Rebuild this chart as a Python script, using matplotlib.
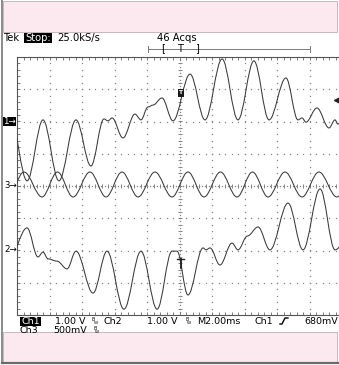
import numpy as np
import matplotlib
matplotlib.use("Agg")
import matplotlib.pyplot as plt
from matplotlib.path import Path
from matplotlib.patches import PathPatch, Rectangle
from matplotlib.lines import Line2D

plt.rcParams['font.family'] = ['DejaVu Sans']

W, H = 339, 365

# ---- scope settings ----
TIME_PER_DIV = 2.0          # ms/div  (M2.00ms)
CH1_SCALE, CH1_POS = 1.00, 2.0    # V/div, ground marker (div)
CH2_SCALE, CH2_POS = 1.00, -2.0
CH3_SCALE, CH3_POS = 0.50, 0.0
TRIG_LEVEL = 0.68           # V on Ch1

# ---- traces: turning points (time ms, volts) ----
ch1_t = [-10.37, -9.38, -8.40, -7.42, -6.37, -5.45, -4.65, -4.40, -4.15, -3.48,
         -2.74, -2.37, -1.94, -1.63, -1.08, -0.40, 0.65, 1.57, 2.62, 3.60,
         4.58, 5.51, 6.55, 7.29, 7.54, 7.78, 8.46, 9.20, 9.57, 9.75, 10.0]
ch1_v = [0.02, -1.84, 0.05, -1.84, 0.05, -1.38, 0.08, 0.02, 0.11, -0.51,
         0.23, 0.05, 0.45, 0.51, 0.73, 0.02, 1.47, 0.05, 1.94, 0.05,
         1.88, 0.05, 1.35, 0.05, 0.11, -0.02, 0.42, -0.20, 0.05, -0.08, 0.02]

ch2_t = [-10.55, -9.38, -8.71, -8.40, -8.09, -7.54, -6.92, -6.37, -5.32, -4.46,
         -3.42, -2.37, -1.38, -0.46, -0.15, 0.52, 1.45, 1.63, 1.88, 2.49,
         3.23, 3.60, 4.18, 4.83, 5.57, 6.68, 7.60, 8.65, 9.57, 10.49]
ch2_v = [-0.36, 0.70, -0.20, -0.05, -0.26, -0.33, -0.57, -0.02, -1.32, -0.02,
         -1.82, -0.02, -1.82, -0.02, -0.02, -1.38, 0.08, 0.02, 0.08, -0.45,
         0.23, 0.02, 0.45, 0.73, 0.02, 1.47, 0.02, 1.91, 0.02, 0.48]

ch3_t = [-10.55, -9.57, -8.46, -7.51, -6.55, -5.51, -4.52, -3.54, -2.55, -1.51,
         -0.46, 0.52, 1.51, 2.52, 3.54, 4.49, 5.45, 6.49, 7.54, 8.58, 9.69, 10.68]
ch3_v = [-0.17, 0.217, -0.17, 0.217, -0.17, 0.217, -0.17, 0.217, -0.17, 0.217,
         -0.17, 0.217, -0.17, 0.217, -0.17, 0.217, -0.17, 0.217, -0.17, 0.217,
         -0.17, 0.217]

TRACE = '#3a3a3a'
GRID = '#858585'
PINK = '#fce8ef'

fig = plt.figure(figsize=(W / 100, H / 100), dpi=100)
fig.patch.set_facecolor('white')


def fx(x):
    return x / W


def fy(y):
    return 1 - y / H


def box(x0, y0, x1, y1, color='black'):
    fig.patches.append(Rectangle((fx(x0), fy(y1)), (x1 - x0) / W, (y1 - y0) / H,
                                 transform=fig.transFigure, facecolor=color,
                                 edgecolor='none', zorder=1))


# pink bands and frame
fig.patches.append(Rectangle((fx(3), fy(32)), fx(334), 31 / H, transform=fig.transFigure,
                             facecolor=PINK, edgecolor='#b0a0a8', lw=0.5, zorder=0))
fig.patches.append(Rectangle((fx(3), fy(362)), fx(334), 30 / H, transform=fig.transFigure,
                             facecolor=PINK, edgecolor='#b0a0a8', lw=0.5, zorder=0))
fig.lines.append(Line2D([fx(2), fx(2)], [fy(0), fy(363)], transform=fig.transFigure,
                        color='#8a8a8a', lw=1.4))
fig.lines.append(Line2D([fx(2), fx(339)], [fy(363), fy(363)], transform=fig.transFigure,
                        color='#6a6a6a', lw=1.6))

# graticule axes: 10 x 8 divisions, right edge runs past the picture
left, right, top, bottom = 17, 342, 57, 315
ax = fig.add_axes([fx(left), fy(bottom), (right - left) / W, (bottom - top) / H])
ax.set_xlim(-5 * TIME_PER_DIV, 5 * TIME_PER_DIV)
ax.set_ylim(-4, 4)
ax.set_xticks([])
ax.set_yticks([])
ax.set_facecolor('white')
for s in ax.spines.values():
    s.set_color('#555555')
    s.set_linewidth(0.8)

minor_x = np.arange(-10, 10.001, TIME_PER_DIV / 5)
minor_y = np.arange(-4, 4.001, 0.2)
for gx in np.arange(-8, 8.1, 2):
    if abs(gx) < 1e-9:
        continue
    ax.plot(np.full_like(minor_y, gx), minor_y, ls='none', marker='s', ms=0.9,
            mew=0, color=GRID)
for gy in np.arange(-3, 3.1, 1):
    if abs(gy) < 1e-9:
        continue
    ax.plot(minor_x, np.full_like(minor_x, gy), ls='none', marker='s', ms=0.9,
            mew=0, color=GRID)
# center cross with minor ticks
fine_x = np.arange(-10, 10.001, TIME_PER_DIV / 10)
fine_y = np.arange(-4, 4.001, 0.1)
ax.plot(fine_x, np.zeros_like(fine_x), ls='none', marker='s', ms=0.9, mew=0, color=GRID)
ax.plot(np.zeros_like(fine_y), fine_y, ls='none', marker='s', ms=0.9, mew=0, color=GRID)
ax.plot(minor_x, np.zeros_like(minor_x), ls='none', marker='|', ms=3.2, mew=0.7, color=GRID)
ax.plot(np.zeros_like(minor_y), minor_y, ls='none', marker='_', ms=3.2, mew=0.7, color=GRID)
# border ticks
ax.vlines(minor_x, 4 - 0.09, 4, color='#666666', lw=0.6)
ax.vlines(minor_x, -4, -4 + 0.09, color='#666666', lw=0.6)
ax.hlines(minor_y, -10, -10 + 0.18, color='#666666', lw=0.6)


def wave_path(t, y, k=0.36):
    verts = [(t[0], y[0])]
    codes = [Path.MOVETO]
    for i in range(1, len(t)):
        dt = t[i] - t[i - 1]
        verts += [(t[i - 1] + k * dt, y[i - 1]), (t[i] - k * dt, y[i]), (t[i], y[i])]
        codes += [Path.CURVE4] * 3
    return Path(verts, codes)


for tt, vv, sc, pos in [(ch1_t, ch1_v, CH1_SCALE, CH1_POS),
                        (ch2_t, ch2_v, CH2_SCALE, CH2_POS),
                        (ch3_t, ch3_v, CH3_SCALE, CH3_POS)]:
    ydiv = [pos + v / sc for v in vv]
    ax.add_patch(PathPatch(wave_path(tt, ydiv), fill=False, edgecolor=TRACE,
                           lw=0.75, zorder=5))

# trigger level arrow on right edge
ax.plot([9.72], [CH1_POS + TRIG_LEVEL / CH1_SCALE], marker='<', ms=4.2, color='#222222',
        clip_on=False, zorder=6)

# channel ground markers
box(3, 116.5, 16, 125.5)
fig.text(fx(3.5), fy(121), '1\u2192', fontsize=6.2, color='white', va='center', ha='left',
         zorder=3)
fig.text(fx(4), fy(185), '3\u2192', fontsize=6.2, color='black', va='center', ha='left')
fig.text(fx(4), fy(250), '2\u2192', fontsize=6.2, color='black', va='center', ha='left')

# trigger position box
box(178, 89, 184, 97, '#1a1a1a')
fig.text(fx(181), fy(93), 'T', fontsize=4.3, color='white', va='center', ha='center',
         fontweight='bold', zorder=3)
# trigger mark on Ch2
fig.lines.append(Line2D([fx(177), fx(184)], [fy(259), fy(259)], transform=fig.transFigure,
                        color='#222222', lw=1.0))
fig.lines.append(Line2D([fx(180.5), fx(180.5)], [fy(259), fy(268)], transform=fig.transFigure,
                        color='#222222', lw=1.3))

FS = 7.2
# top status line
fig.text(fx(3), fy(41), 'Tek', fontsize=FS, va='baseline')
box(24, 32.5, 52, 42.5)
fig.text(fx(25), fy(41), 'Stop:', fontsize=FS, va='baseline', color='white', zorder=3)
fig.text(fx(57), fy(41), '25.0kS/s', fontsize=FS, va='baseline')
fig.text(fx(157), fy(41), '46 Acqs', fontsize=FS, va='baseline')

# record window bracket
fig.lines.append(Line2D([fx(148), fx(310)], [fy(49), fy(49)], transform=fig.transFigure,
                        color='#7a7a7a', lw=0.7))
for xx in (148, 310):
    fig.lines.append(Line2D([fx(xx), fx(xx)], [fy(46), fy(52)], transform=fig.transFigure,
                            color='#7a7a7a', lw=0.7))
fig.text(fx(163), fy(48.5), '[', fontsize=7, va='center', ha='center')
fig.text(fx(180), fy(48.5), 'T', fontsize=7, va='center', ha='center')
fig.text(fx(197), fy(48.5), ']', fontsize=7, va='center', ha='center')

# bottom readouts
FB = 6.8
r1, r2 = 323.8, 333.3
box(20, 316.5, 41, 325.5)
fig.text(fx(21), fy(r1), 'Ch1', fontsize=FB, va='baseline', color='white', zorder=3)
fig.text(fx(55), fy(r1), '1.00 V', fontsize=FB, va='baseline')
fig.text(fx(103), fy(r1), 'Ch2', fontsize=FB, va='baseline')
fig.text(fx(147), fy(r1), '1.00 V', fontsize=FB, va='baseline')
fig.text(fx(197), fy(r1), 'M2.00ms', fontsize=FB, va='baseline')
fig.text(fx(255), fy(r1), 'Ch1', fontsize=FB, va='baseline')
fig.text(fx(304), fy(r1), '680mV', fontsize=FB, va='baseline')
fig.text(fx(20), fy(r2), 'Ch3', fontsize=FB, va='baseline')
fig.text(fx(53), fy(r2), '500mV', fontsize=FB, va='baseline')
for bx, by in [(92, r1), (185, r1), (93, r2)]:
    fig.text(fx(bx), fy(by - 3), 'B', fontsize=3.4, va='baseline')
    fig.text(fx(bx + 1.5), fy(by), 'W', fontsize=3.0, va='baseline')
# rising edge symbol
fig.lines.append(Line2D([fx(280), fx(282), fx(285), fx(288)],
                        [fy(324), fy(324), fy(318), fy(318)],
                        transform=fig.transFigure, color='black', lw=1.0))

fig.savefig('out.png', dpi=100)
